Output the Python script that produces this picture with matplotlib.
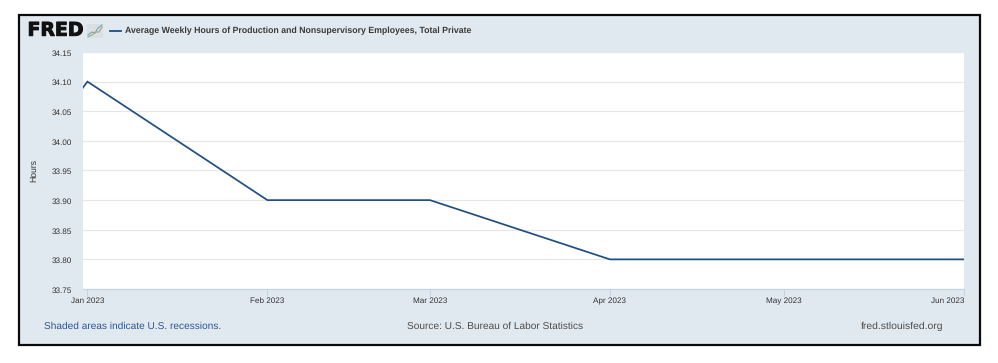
import matplotlib
matplotlib.use("Agg")
import matplotlib.pyplot as plt
import matplotlib.dates as mdates
import matplotlib.patheffects as pe
from matplotlib.patches import Rectangle
from matplotlib.transforms import ScaledTranslation
from datetime import date

W, H = 998, 363
dates = [date(2022, 12, 1), date(2023, 1, 1), date(2023, 2, 1), date(2023, 3, 1),
         date(2023, 4, 1), date(2023, 5, 1), date(2023, 6, 1)]
hours = [33.7, 34.1, 33.9, 33.9, 33.8, 33.8, 33.8]
yticks = [33.75, 33.80, 33.85, 33.90, 33.95, 34.00, 34.05, 34.10, 34.15]
xtick_dates = dates[1:]
xtick_labels = ["Jan 2023", "Feb 2023", "Mar 2023", "Apr 2023", "May 2023", "Jun 2023"]
title = "Average Weekly Hours of Production and Nonsupervisory Employees, Total Private"
ylabel = "Hours"
note = "Shaded areas indicate U.S. recessions."
source = "Source: U.S. Bureau of Labor Statistics"
site = "fred.stlouisfed.org"
logo = "FRED"

plt.rcParams["font.family"] = ["Liberation Sans", "DejaVu Sans"]
plt.rcParams["text.hinting"] = "none"
NAVY = "#1f4e83"
PANEL = "#e1e9f0"
TXT = "#333333"

fig = plt.figure(figsize=(W / 100, H / 100), dpi=100, facecolor="white")

def fx(x): return x / W
def fy(y): return 1 - y / H

fig.add_artist(Rectangle((fx(19), fy(345)), 961 / W, 330 / H, transform=fig.transFigure,
                         facecolor=PANEL, edgecolor="#0a0a0a", linewidth=1.6, zorder=-5))

ax = fig.add_axes([fx(83), fy(289), 881 / W, 237 / H])
ax.set_facecolor("white")
ax.plot(mdates.date2num(dates), hours, color=NAVY, linewidth=1.25, solid_joinstyle="miter", zorder=3)

x0 = mdates.date2num(date(2023, 1, 1))
ax.set_xlim(x0 - 0.77, x0 - 0.77 + 881 / 5.84)
ax.set_ylim(33.75, 34.15)
ax.set_yticks(yticks)
ax.set_yticklabels([f"{v:.2f}" for v in yticks], fontsize=5.85, color=TXT)
ax.set_xticks(mdates.date2num(xtick_dates))
ax.set_xticklabels(xtick_labels, fontsize=5.85, color=TXT)
ax.tick_params(axis="y", length=0, pad=8)
ax.tick_params(axis="x", length=5, width=0.7, color="#c4d2e2", pad=1)
ax.grid(axis="y", color="#e6e6e6", linewidth=0.8)
ax.set_axisbelow(True)
for s in ["top", "right", "left"]:
    ax.spines[s].set_visible(False)
ax.spines["bottom"].set_color("#c4d2e2")
ax.spines["bottom"].set_linewidth(0.9)
ax.get_xticklabels()[-1].set_ha("right")
for lab in ax.get_yticklabels():
    lab.set_transform(lab.get_transform() + ScaledTranslation(0, -0.8 / 100, fig.dpi_scale_trans))

fig.text(fx(34), fy(170), ylabel, rotation=90, fontsize=6.2, color=TXT, ha="center", va="center")

fig.text(fx(27.5), fy(30.5), logo, fontsize=13.6, fontfamily="DejaVu Sans", fontweight="bold",
         color="#111111", ha="left", va="center",
         path_effects=[pe.withStroke(linewidth=0.7, foreground="#111111")])
fig.add_artist(plt.Line2D([fx(110), fx(121)], [fy(30.5), fy(30.5)], color=NAVY, linewidth=1.3))
fig.text(fx(125), fy(30.5), title, fontsize=6.29, fontweight="bold", color="#3a3a3a", ha="left", va="center")

fig.add_artist(Rectangle((fx(87), fy(38)), 16 / W, 14 / H, transform=fig.transFigure,
                         facecolor="#d9dfe2", edgecolor="none"))
fig.add_artist(plt.Line2D([fx(v) for v in (88, 92, 95, 98, 102)], [fy(v) for v in (35, 32, 33, 28, 25)],
                          color="#7f9fb5", linewidth=0.8))
fig.add_artist(plt.Line2D([fx(v) for v in (88, 92, 96, 99, 102)], [fy(v) for v in (37, 35, 32, 32, 27)],
                          color="#9aad7c", linewidth=0.8))

fig.text(fx(44), fy(326), note, fontsize=7.28, color="#2f5590", ha="left", va="center")
fig.text(fx(407), fy(326), source, fontsize=7.3, color="#4d4d4d", ha="left", va="center")
fig.text(fx(861), fy(326), site, fontsize=7.45, color="#4d4d4d", ha="left", va="center")

fig.savefig("out.png", dpi=100, facecolor="white")
